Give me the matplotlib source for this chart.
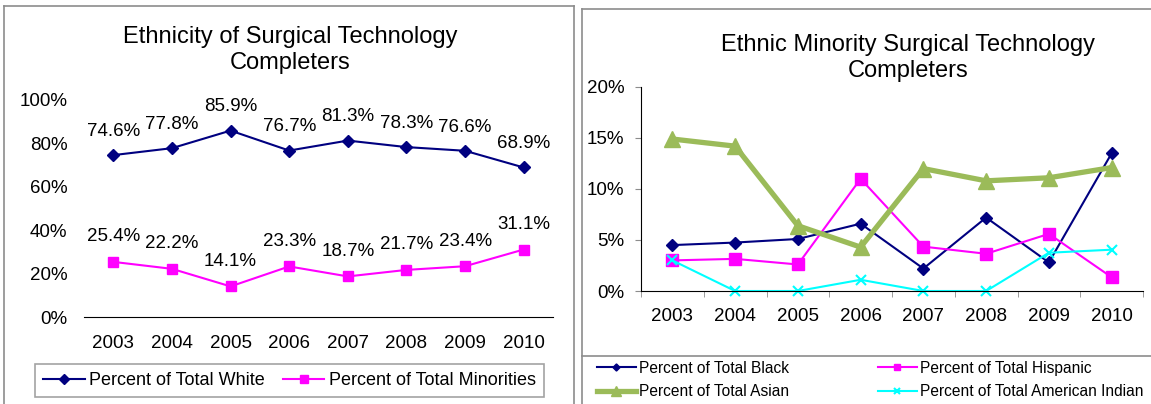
import matplotlib.pyplot as plt
from matplotlib.lines import Line2D

plt.rcParams["font.family"] = ["Liberation Sans", "DejaVu Sans"]

# Daten
years = ["2003", "2004", "2005", "2006", "2007", "2008", "2009", "2010"]

white = [74.6, 77.8, 85.9, 76.7, 81.3, 78.3, 76.6, 68.9]
minorities = [25.4, 22.2, 14.1, 23.3, 18.7, 21.7, 23.4, 31.1]

black = [4.5, 4.75, 5.1, 6.6, 2.2, 7.2, 2.8, 13.5]
hispanic = [3.0, 3.15, 2.6, 11.0, 4.35, 3.65, 5.6, 1.35]
asian = [14.9, 14.2, 6.4, 4.3, 12.0, 10.8, 11.1, 12.1]
american_indian = [3.0, 0.0, 0.0, 1.1, 0.0, 0.0, 3.75, 4.05]

W, H = 1151, 404


def px(x0, y0, x1, y1):
    # Pixel-Box -> Figure-Koordinaten
    return [x0 / W, 1 - y1 / H, (x1 - x0) / W, (y1 - y0) / H]


fig = plt.figure(figsize=(W / 100, H / 100), dpi=100)

# Rahmen der beiden Felder
grau = "#8c8c8c"
for xs, ys in [
    ([4, 4], [6, 404]), ([4, 574], [6, 6]), ([574, 574], [6, 404]),
    ([582, 582], [9, 404]), ([582, 1151], [9, 9]), ([582, 1151], [356, 356]),
]:
    fig.add_artist(Line2D([x / W for x in xs], [1 - y / H for y in ys],
                          color=grau, lw=1.2))

x = list(range(len(years)))

# Linkes Diagramm
ax1 = fig.add_axes(px(84, 100, 553, 317))

ax1.plot(x, white, color="#000080", marker="D", markersize=6, lw=1.5,
         label="Percent of Total White")
ax1.plot(x, minorities, color="#FF00FF", marker="s", markersize=7.5, lw=1.5,
         label="Percent of Total Minorities")

for i, wert in enumerate(white):
    ax1.annotate(f"{wert:.1f}%", (i, wert), xytext=(0, 17),
                 textcoords="offset points", ha="center", va="center",
                 fontsize=13.5)
for i, wert in enumerate(minorities):
    ax1.annotate(f"{wert:.1f}%", (i, wert), xytext=(0, 18),
                 textcoords="offset points", ha="center", va="center",
                 fontsize=13.5)

ax1.set_xlim(-0.5, 7.5)
ax1.set_ylim(0, 100)
ax1.set_xticks(x)
ax1.set_xticklabels(years, fontsize=13.5)
ax1.set_yticks([0, 20, 40, 60, 80, 100])
ax1.set_yticklabels([f"{v}%" for v in [0, 20, 40, 60, 80, 100]], fontsize=13.5)
ax1.tick_params(axis="both", length=0)
ax1.tick_params(axis="y", pad=12)
ax1.tick_params(axis="x", pad=13)
for s in ["top", "right", "left"]:
    ax1.spines[s].set_visible(False)
ax1.spines["bottom"].set_color("black")
ax1.set_facecolor("none")

fig.text(290 / W, 1 - 50 / H, "Ethnicity of Surgical Technology\nCompleters",
         ha="center", va="center", fontsize=17, linespacing=1.22)

leg1 = ax1.legend(loc="center", bbox_to_anchor=(289.5 / W, 1 - 380.5 / H),
                  bbox_transform=fig.transFigure, ncol=2, fontsize=13,
                  handlelength=2.3, handletextpad=0.25, columnspacing=1.0,
                  markerscale=0.85, fancybox=False, edgecolor=grau,
                  borderpad=0.45, borderaxespad=0)
leg1.get_frame().set_linewidth(1.2)

# Rechtes Diagramm
ax2 = fig.add_axes(px(641, 87, 1143, 291))

l_black, = ax2.plot(x, black, color="#000080", marker="D", markersize=6,
                    lw=1.5, label="Percent of Total Black")
l_hisp, = ax2.plot(x, hispanic, color="#FF00FF", marker="s", markersize=8,
                   lw=1.5, label="Percent of Total Hispanic")
l_asian, = ax2.plot(x, asian, color="#9BBB59", marker="^", markersize=11,
                    lw=3.8, label="Percent of Total Asian")
l_ind, = ax2.plot(x, american_indian, color="#00FFFF", marker="x",
                  markersize=7, markeredgewidth=1.5, lw=1.5,
                  label="Percent of Total American Indian")

ax2.set_xlim(-0.5, 7.5)
ax2.set_ylim(0, 20)
ax2.set_xticks(x)
ax2.set_xticklabels(years, fontsize=13.5)
ax2.set_xticks([i - 0.5 for i in range(len(years) + 1)], minor=True)
ax2.set_yticks([0, 5, 10, 15, 20])
ax2.set_yticklabels([f"{v}%" for v in [0, 5, 10, 15, 20]], fontsize=13.5)
ax2.tick_params(axis="x", which="major", length=0, pad=12)
ax2.tick_params(axis="x", which="minor", length=4, color=grau, direction="out")
ax2.tick_params(axis="y", length=4, color=grau, direction="out", pad=8)
for s in ["top", "right"]:
    ax2.spines[s].set_visible(False)
ax2.set_facecolor("none")
for l in ax2.lines:
    l.set_clip_on(False)

fig.text(908 / W, 1 - 58 / H, "Ethnic Minority Surgical Technology\nCompleters",
         ha="center", va="center", fontsize=17, linespacing=1.22)

ax2.legend(handles=[l_black, l_asian, l_hisp, l_ind], loc="center",
           bbox_to_anchor=(870 / W, 1 - 380 / H),
           bbox_transform=fig.transFigure, ncol=2, fontsize=11.2,
           handlelength=2.5, handletextpad=0.2, columnspacing=5.7,
           labelspacing=0.55, markerscale=0.6, frameon=False)

fig.savefig("out.png", dpi=100)
